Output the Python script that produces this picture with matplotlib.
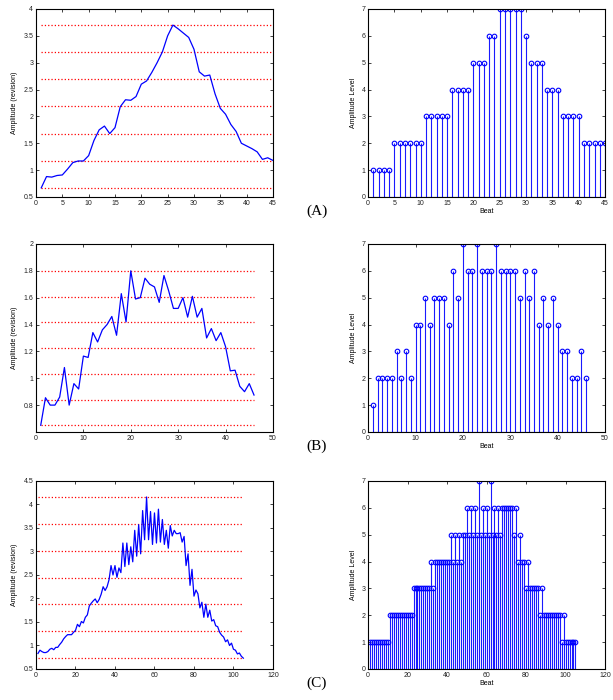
import numpy as np
import matplotlib
matplotlib.use("Agg")
import matplotlib.pyplot as plt
from matplotlib.ticker import FuncFormatter

# (A) amplitude per beat and its quantized level
amp_a = [0.67, 0.88, 0.87, 0.90, 0.91, 1.02, 1.14, 1.17, 1.17, 1.27,
         1.55, 1.75, 1.82, 1.68, 1.79, 2.18, 2.31, 2.30, 2.37, 2.60,
         2.66, 2.82, 3.00, 3.20, 3.50, 3.70, 3.63, 3.55, 3.47, 3.25,
         2.83, 2.75, 2.77, 2.42, 2.15, 2.04, 1.85, 1.72, 1.50, 1.45,
         1.40, 1.34, 1.20, 1.23, 1.18]
lvl_a = [1, 1, 1, 1, 2, 2, 2, 2, 2, 2,
         3, 3, 3, 3, 3, 4, 4, 4, 4, 5,
         5, 5, 6, 6, 7, 7, 7, 7, 7, 6,
         5, 5, 5, 4, 4, 4, 3, 3, 3, 3,
         2, 2, 2, 2, 2]

# (B)
amp_b = [0.65, 0.855, 0.80, 0.80, 0.86, 1.08, 0.80, 0.96, 0.92, 1.165,
         1.155, 1.34, 1.27, 1.36, 1.40, 1.46, 1.32, 1.63, 1.42, 1.80,
         1.59, 1.60, 1.745, 1.70, 1.68, 1.565, 1.765, 1.65, 1.52, 1.52,
         1.60, 1.455, 1.61, 1.455, 1.52, 1.30, 1.37, 1.28, 1.34, 1.235,
         1.055, 1.06, 0.94, 0.90, 0.96, 0.875]
lvl_b = [1, 2, 2, 2, 2, 3, 2, 3, 2, 4,
         4, 5, 4, 5, 5, 5, 4, 6, 5, 7,
         6, 6, 7, 6, 6, 6, 7, 6, 6, 6,
         6, 5, 6, 5, 6, 4, 5, 4, 5, 4,
         3, 3, 2, 2, 3, 2]

# (C)
amp_c = [0.83, 0.90, 0.87, 0.85, 0.85, 0.87, 0.92, 0.94, 0.91, 0.96,
         0.96, 1.02, 1.07, 1.14, 1.19, 1.23, 1.23, 1.23, 1.28, 1.32,
         1.45, 1.40, 1.51, 1.48, 1.60, 1.65, 1.84, 1.90, 1.95, 1.99,
         1.91, 1.98, 2.09, 2.25, 2.17, 2.25, 2.40, 2.70, 2.50, 2.70,
         2.45, 2.65, 2.55, 3.18, 2.68, 3.18, 2.72, 3.10, 2.78, 3.45,
         2.90, 3.57, 2.95, 3.87, 3.25, 4.16, 3.25, 3.85, 3.15, 3.82,
         3.18, 3.90, 3.20, 3.68, 3.15, 3.45, 3.07, 3.55, 3.33, 3.45,
         3.38, 3.38, 3.40, 3.20, 3.32, 2.70, 2.95, 2.28, 2.62, 2.05,
         2.18, 2.10, 1.80, 1.92, 1.60, 1.88, 1.60, 1.75, 1.52, 1.55,
         1.42, 1.40, 1.28, 1.22, 1.18, 1.08, 1.12, 1.00, 1.05, 0.92,
         0.90, 0.82, 0.84, 0.77, 0.73]
lvl_c = [1, 1, 1, 1, 1, 1, 1, 1, 1, 1,
         2, 2, 2, 2, 2, 2, 2, 2, 2, 2,
         2, 2, 3, 3, 3, 3, 3, 3, 3, 3,
         3, 4, 3, 4, 4, 4, 4, 4, 4, 4,
         4, 5, 4, 5, 4, 5, 4, 5, 5, 6,
         5, 6, 5, 6, 5, 7, 5, 6, 5, 6,
         5, 7, 5, 6, 5, 6, 5, 6, 6, 6,
         6, 6, 6, 5, 6, 4, 5, 4, 4, 3,
         4, 3, 3, 3, 3, 3, 2, 3, 2, 2,
         2, 2, 2, 2, 2, 2, 2, 1, 2, 1,
         1, 1, 1, 1, 1]

panels = [
    ("(A)", amp_a, lvl_a, (0, 45), (0.5, 4), np.arange(0.5, 4.01, 0.5), 0.7186),
    ("(B)", amp_b, lvl_b, (0, 50), (0.6, 2), np.arange(0.8, 2.01, 0.2), 0.3829),
    ("(C)", amp_c, lvl_c, (0, 120), (0.5, 4.5), np.arange(0.5, 4.51, 0.5), 0.0443),
]

plt.rcParams['font.family'] = ['Liberation Sans', 'DejaVu Sans']
fig = plt.figure(figsize=(6.13, 7.0), dpi=100)
fmt = FuncFormatter(lambda v, p: "%g" % round(v, 2))


def style(ax):
    ax.tick_params(direction="in", length=2.5, width=0.6, labelsize=5,
                   top=True, right=True, pad=2, colors="#222222")
    for s in ax.spines.values():
        s.set_linewidth(0.8)
    ax.xaxis.set_major_formatter(fmt)
    ax.yaxis.set_major_formatter(fmt)


for tag, amp, lvl, xl, yl, yt, bot in panels:
    beats = np.arange(1, len(amp) + 1)

    # left: amplitude with the 7 reference levels
    ax = fig.add_axes([0.0587, bot, 0.3866, 0.2686])
    levels = np.linspace(min(amp), max(amp), 7)
    ax.hlines(levels, 1, len(amp), colors="red", linestyles=":", linewidth=0.9)
    ax.plot(beats, amp, color="blue", linewidth=0.9)
    ax.set_xlim(*xl)
    ax.set_ylim(*yl)
    ax.set_yticks(yt)
    ax.set_ylabel("Amplitude (revision)", fontsize=5, labelpad=4)
    style(ax)

    # right: quantized level per beat
    ax2 = fig.add_axes([0.6005, bot, 0.3866, 0.2686])
    ml, sl, bl = ax2.stem(beats, lvl, linefmt="b-", markerfmt="bo", basefmt="b-")
    plt.setp(ml, markersize=3.3, markerfacecolor="none", markeredgewidth=0.8)
    plt.setp(sl, linewidth=0.8, color="#1a1aff")
    plt.setp(bl, linewidth=0.8)
    ax2.set_xlim(*xl)
    ax2.set_ylim(0, 7)
    ax2.set_yticks(range(0, 8))
    ax2.set_xlabel("Beat", fontsize=5, labelpad=1)
    ax2.set_ylabel("Amplitude Level", fontsize=5, labelpad=3)
    style(ax2)

    fig.text(0.517, bot - 0.021, tag, fontsize=11, ha="center", va="center",
             family="Liberation Serif")

fig.savefig("out.png", dpi=100)
